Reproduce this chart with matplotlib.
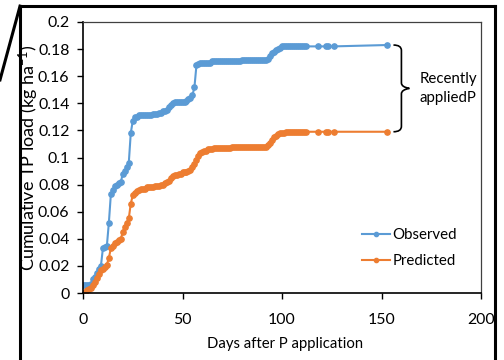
import matplotlib
matplotlib.use("Agg")
import matplotlib.pyplot as plt
from matplotlib.lines import Line2D
from matplotlib.path import Path
from matplotlib.patches import PathPatch

plt.rcParams['font.family'] = ['Lato', 'DejaVu Sans']
plt.rcParams['mathtext.default'] = 'regular'

days = [0, 1, 2, 3, 4, 5, 6, 7, 8, 9,
        10, 11, 12, 13, 14, 15, 16, 17, 18, 19,
        20, 21, 22, 23, 24, 25, 26, 27, 28, 29,
        30, 31, 32, 33, 34, 35, 36, 37, 38, 39,
        40, 41, 42, 43, 44, 45, 46, 47, 48, 49,
        50, 51, 52, 53, 54, 55, 56, 57, 58, 59,
        60, 61, 62, 63, 64, 65, 66, 67, 68, 69,
        70, 71, 72, 73, 74, 75, 76, 77, 78, 79,
        80, 81, 82, 83, 84, 85, 86, 87, 88, 89,
        90, 91, 92, 93, 94, 95, 96, 97, 98, 99,
        100, 101, 102, 103, 104, 105, 106, 107, 108, 109,
        110, 111, 112, 118, 122, 123, 126, 152.6]

observed = [0.006, 0.006, 0.006, 0.006, 0.007, 0.010, 0.012, 0.015, 0.018, 0.020,
            0.033, 0.034, 0.035, 0.052, 0.073, 0.076, 0.079, 0.080, 0.081, 0.082,
            0.088, 0.090, 0.093, 0.096, 0.118, 0.127, 0.130, 0.130, 0.131, 0.131,
            0.131, 0.131, 0.131, 0.131, 0.131, 0.132, 0.132, 0.132, 0.133, 0.133,
            0.134, 0.134, 0.135, 0.137, 0.139, 0.140, 0.141, 0.141, 0.141, 0.141,
            0.141, 0.141, 0.142, 0.143, 0.144, 0.146, 0.152, 0.168, 0.169, 0.170,
            0.170, 0.170, 0.170, 0.170, 0.170, 0.171, 0.171, 0.171, 0.171, 0.171,
            0.171, 0.171, 0.171, 0.171, 0.171, 0.171, 0.171, 0.171, 0.171, 0.171,
            0.172, 0.172, 0.172, 0.172, 0.172, 0.172, 0.172, 0.172, 0.172, 0.172,
            0.172, 0.172, 0.172, 0.173, 0.175, 0.177, 0.178, 0.179, 0.180, 0.181,
            0.182, 0.182, 0.182, 0.182, 0.182, 0.182, 0.182, 0.182, 0.182, 0.182,
            0.182, 0.182, 0.182, 0.182, 0.182, 0.182, 0.182, 0.183]

predicted = [0.000, 0.001, 0.002, 0.003, 0.004, 0.006, 0.008, 0.011, 0.014, 0.017,
             0.018, 0.019, 0.021, 0.026, 0.033, 0.035, 0.037, 0.038, 0.039, 0.040,
             0.045, 0.049, 0.052, 0.055, 0.066, 0.072, 0.074, 0.075, 0.076, 0.077,
             0.077, 0.077, 0.078, 0.078, 0.078, 0.078, 0.079, 0.079, 0.079, 0.080,
             0.080, 0.081, 0.082, 0.083, 0.085, 0.086, 0.087, 0.087, 0.088, 0.088,
             0.089, 0.089, 0.089, 0.090, 0.091, 0.093, 0.095, 0.098, 0.101, 0.103,
             0.104, 0.105, 0.105, 0.106, 0.106, 0.106, 0.107, 0.107, 0.107, 0.107,
             0.107, 0.107, 0.107, 0.107, 0.107, 0.108, 0.108, 0.108, 0.108, 0.108,
             0.108, 0.108, 0.108, 0.108, 0.108, 0.108, 0.108, 0.108, 0.108, 0.108,
             0.108, 0.108, 0.108, 0.109, 0.111, 0.113, 0.115, 0.116, 0.117, 0.118,
             0.118, 0.118, 0.119, 0.119, 0.119, 0.119, 0.119, 0.119, 0.119, 0.119,
             0.119, 0.119, 0.119, 0.119, 0.119, 0.119, 0.119, 0.119]

x_ticks = [0, 50, 100, 150, 200]
y_ticks = [0, 0.02, 0.04, 0.06, 0.08, 0.1, 0.12, 0.14, 0.16, 0.18, 0.2]
y_tick_labels = ['0', '0.02', '0.04', '0.06', '0.08', '0.1', '0.12', '0.14', '0.16', '0.18', '0.2']

blue = '#5B9BD5'
orange = '#ED7D31'
fs_tick = 11.4
fs_ylab = 13.0
fs_xlab = 10.7
fs_text = 10.8

fig = plt.figure(figsize=(5.04, 3.6), dpi=100)
ax = fig.add_axes([0.1647, 0.1861, 0.7897, 0.7528])

ax.plot(days, observed, color=blue, lw=1.5, marker='o', ms=3.8, label='Observed')
ax.plot(days, predicted, color=orange, lw=1.5, marker='o', ms=3.8, label='Predicted')

ax.set_xlim(0, 200)
ax.set_ylim(0, 0.2)
ax.set_xticks(x_ticks)
ax.set_yticks(y_ticks)
ax.set_yticklabels(y_tick_labels)
ax.tick_params(axis='both', direction='out', length=4.3, width=1, labelsize=fs_tick, colors='black')
ax.tick_params(axis='y', pad=5.5)
ax.tick_params(axis='x', pad=10)
for s in ['left', 'bottom']:
    ax.spines[s].set_color('black')
    ax.spines[s].set_linewidth(1.2)
for s in ['top', 'right']:
    ax.spines[s].set_color('#404040')
    ax.spines[s].set_linewidth(0.9)

ax.set_xlabel('Days after P application', fontsize=fs_xlab)
ax.xaxis.set_label_coords(0.5075, -0.163)
ax.set_ylabel('Cumulative TP load (kg ha$^{-1}$)', fontsize=fs_ylab)
ax.yaxis.set_label_coords(-0.106, 0.5)

leg = ax.legend(loc='center', bbox_to_anchor=(0.82, 0.166), frameon=False, fontsize=fs_text,
                handlelength=1.9, handletextpad=0.15, labelspacing=0.8, markerscale=0.8)

# brace
bx0, bx1, bx2 = 156, 160, 164
yt, yb = 0.183, 0.119
ym = (yt + yb) / 2
verts = [(bx0, yt), (bx1, yt), (bx1, yt - 0.004),
         (bx1, ym + 0.004), (bx1, ym + 0.001), (bx2, ym),
         (bx1, ym - 0.001), (bx1, ym - 0.004),
         (bx1, yb + 0.004), (bx1, yb), (bx0, yb)]
codes = [Path.MOVETO, Path.CURVE3, Path.CURVE3,
         Path.LINETO, Path.CURVE3, Path.CURVE3,
         Path.CURVE3, Path.CURVE3,
         Path.LINETO, Path.CURVE3, Path.CURVE3]
ax.add_patch(PathPatch(Path(verts, codes), fill=False, lw=1.2, edgecolor='black'))
ax.text(169, 0.151, 'Recently\nappliedP', fontsize=fs_text, ha='left', va='center', linespacing=1.5)

# outer frame
lw = 2.2
fig.add_artist(Line2D([0.0397, 0.982], [0.983, 0.983], color='black', lw=lw))
fig.add_artist(Line2D([0.0397, 0.0397], [0.983, 0.0], color='black', lw=lw))
fig.add_artist(Line2D([0.982, 0.982], [0.983, 0.0], color='black', lw=lw))
fig.add_artist(Line2D([0.0, 0.0397], [0.778, 0.983], color='black', lw=lw))

fig.savefig('out.png', dpi=100)
